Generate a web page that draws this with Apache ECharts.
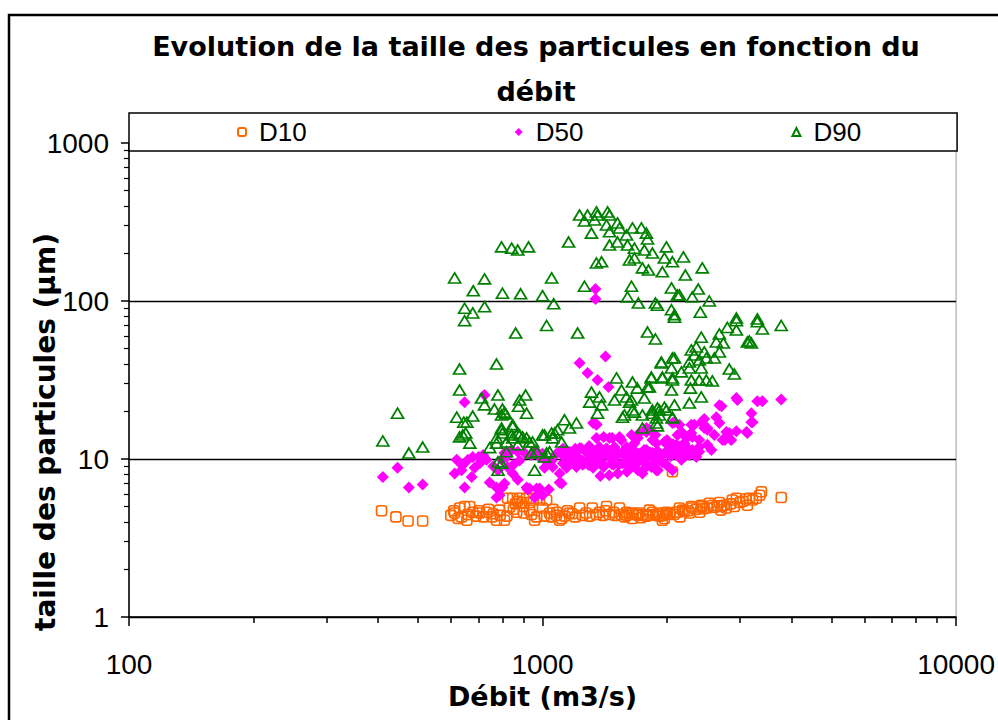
<!DOCTYPE html>
<html>
<head>
<meta charset="utf-8">
<script src="https://cdn.jsdelivr.net/npm/echarts@6.0.0/dist/echarts.min.js"></script>
<style>
  html, body { margin: 0; padding: 0; background: #fff; }
  #main { width: 998px; height: 720px; }
</style>
</head>
<body>
<div id="main"></div>
<script>
var chart = echarts.init(document.getElementById("main"), null, { renderer: 'svg' });

// Débit (m3/s) / taille (µm)
var d10 = [
  [408, 4.7], [442, 4.3], [473, 4.05], [513, 4.05],
  [613, 4.55], [630, 4.9], [648, 5.0], [667, 5.0], [678, 4.6], [637, 4.3], [656, 4.1],
  [705, 4.55], [732, 4.6], [755, 4.3], [774, 4.1], [787, 4.75], [823, 5.65], [847, 5.65],
  [880, 5.65], [915, 5.65], [951, 5.65], [984, 5.5], [1023, 5.5], [832, 4.95], [866, 4.6],
  [900, 4.55], [930, 4.75], [968, 4.3], [1000, 4.9], [1040, 4.55], [1082, 4.6], [1112, 4.2],
  [1162, 4.55], [1229, 4.9], [1274, 4.55], [1319, 4.9], [1373, 4.6], [1428, 5.0], [1484, 4.6],
  [1535, 4.9], [1596, 4.6], [1650, 4.55], [809, 4.1], [957, 4.1], [1100, 4.1], [1714, 4.55],
  [1813, 4.75], [1844, 4.6], [1949, 4.55], [1993, 4.6], [2096, 4.6], [2143, 4.9], [2179, 4.75],
  [2265, 4.55], [2290, 5.0], [2302, 4.9], [2420, 5.1], [2434, 5.0], [2531, 5.25], [2574, 5.1],
  [2677, 5.3], [2710, 5.0], [2782, 4.9], [2877, 5.5], [2910, 5.0], [2943, 5.65], [3129, 5.1],
  [3163, 5.65], [3220, 5.5], [3288, 5.65], [3383, 6.2], [3777, 5.7], [1971, 4.2], [1949, 4.1],
  [1650, 4.2], [2061, 8.3],
  [600, 4.4], [610, 4.7], [625, 4.2], [660, 4.45], [690, 4.35], [700, 4.7], [720, 4.3],
  [740, 4.8], [760, 4.5], [790, 4.4], [820, 4.35], [850, 4.8], [860, 5.2], [890, 5.3],
  [900, 5.0], [940, 4.45], [1010, 4.35], [1050, 4.3], [1080, 4.4], [1130, 4.35], [1180, 4.5],
  [1200, 4.3], [1250, 4.4], [1300, 4.35], [1350, 4.45], [1400, 4.4], [1450, 4.45], [1500, 4.4],
  [1550, 4.45], [1600, 4.4], [1620, 4.5], [1680, 4.45], [1700, 4.4], [1750, 4.45], [1780, 4.35],
  [1800, 4.4], [1850, 4.45], [1880, 4.4], [1900, 4.5], [1920, 4.35], [1960, 4.4], [2000, 4.45],
  [2030, 4.5], [2080, 4.45], [2120, 4.6], [2200, 4.65], [2250, 4.7], [2350, 4.8], [2450, 4.85],
  [2500, 4.9], [2600, 4.95], [2650, 5.05], [2750, 5.1], [2850, 5.2], [3000, 5.3], [3050, 5.4],
  [870, 5.4], [930, 5.3], [1060, 4.8], [1150, 4.7], [1420, 4.7], [1580, 4.3], [1730, 4.25],
  [2150, 4.3], [2400, 4.6], [2700, 4.75], [3100, 5.6], [3350, 5.9]
];

var d50 = [
  [411, 7.7], [446, 8.8], [475, 6.6], [513, 6.9],
  [1343, 119], [1343, 103], [1229, 40.5], [1420, 44.5], [1285, 35], [1358, 31.6], [1444, 28.6],
  [724, 25.4], [648, 22.9], [1350, 16.6], [2084, 17.1], [1813, 15.3],
  [2943, 24.3], [2710, 21.6], [3199, 19.5], [3307, 23.2], [3402, 23.2], [3777, 23.8],
  [2632, 18.4], [2461, 17.9], [2328, 16.5], [2503, 15.7], [2603, 14.2], [2782, 14.8],
  [2860, 13.2], [3112, 14.8], [3199, 17.1], [2203, 14.2], [2560, 11.4], [3129, 14.6],
  [2943, 15], [2829, 14.6], [2725, 13.2], [2393, 13.2], [2290, 14.6], [2143, 16.5],
  [2061, 16.9], [2393, 11.1], [2302, 11.4], [2230, 10.6], [2167, 9.9], [2677, 21.9],
  [2960, 23.6], [2677, 16.9], [2420, 17.1], [2461, 15.7], [2290, 16.5], [2179, 14.6],
  [2302, 13.8], [2503, 15.3], [2760, 13.2], [3220, 17.1], [2503, 12.3], [2393, 11.9],
  [2354, 10.3], [2265, 10.6], [2167, 11.4], [2108, 10.6], [2027, 10.9], [1971, 12.8],
  [1885, 12.6], [1844, 10.9], [1917, 9.9], [1993, 9.2], [1885, 8.5], [2061, 8.5], [1833, 8.9],
  [1350, 16.5], [1405, 13.8], [1475, 13.6], [1535, 13.8], [1641, 14.2], [1714, 14.6],
  [1783, 14.8], [1844, 13.2], [1668, 12.6], [1596, 11.9], [1493, 11.9], [1428, 11.7],
  [1373, 11.9], [1274, 11.4], [1240, 11.7], [1162, 11.1], [1118, 10.6], [1208, 9.9],
  [1300, 10.1], [1373, 10.3], [1484, 10.3], [1596, 10.3], [1686, 10.9], [1783, 11.4],
  [1844, 10.3], [1744, 8.1], [1641, 8.9], [1561, 9.4], [1484, 9.2], [1405, 8.9], [1325, 8.8],
  [1251, 9.2], [1208, 8.9], [1143, 9.2], [1325, 9.9], [1058, 8.9], [1023, 9.6], [984, 10.3],
  [940, 10.6], [905, 10.9], [871, 11.1], [842, 11.4], [809, 10.9], [1100, 7.1], [1035, 6.4],
  [984, 6.5], [930, 6.5], [957, 5.7], [1000, 5.9], [809, 7], [847, 8.1], [871, 7.4],
  [915, 6.6], [1100, 8.1],
  [620, 9.9], [637, 8.5], [613, 8.1], [660, 9.9], [678, 10.3], [685, 8.8], [674, 7.7],
  [648, 6.6], [705, 9.4], [718, 10.6], [732, 9.9], [745, 7.1], [774, 6.6], [800, 6.6],
  [774, 5.7], [787, 5.9], [780, 8.5], [796, 9.9], [823, 8.9], [818, 10.3],
  [1150, 11.1], [1112, 7.0], [920, 6.4], [968, 6.5], [1325, 16.9], [1350, 13.6], [1452, 13.6],
  [1484, 10.6], [1373, 9.4], [1300, 9.2], [1229, 11.7], [1143, 8.8], [1011, 8.8],
  [1783, 15.7], [1875, 14.2], [2000, 13.2], [2120, 14.2], [2230, 13.6], [1550, 13.2],
  [1700, 13.6], [1296, 12.1], [1650, 11.4], [2108, 12.3],
  [1050, 9.7], [1080, 10.8], [1120, 9.4], [1140, 10.4], [1180, 9.9], [1190, 10.6],
  [1220, 10.2], [1250, 9.8], [1270, 11.2], [1290, 9.2], [1310, 10.4], [1340, 11.2],
  [1360, 10.2], [1390, 9.5], [1410, 11.0], [1440, 10.4], [1460, 10.8], [1470, 9.3],
  [1500, 11.4], [1510, 10.5], [1530, 9.2], [1560, 11.0], [1580, 10.4], [1600, 9.2],
  [1620, 10.9], [1640, 10.1], [1660, 11.0], [1690, 9.4], [1710, 10.8], [1730, 9.9],
  [1760, 11.4], [1770, 9.5], [1800, 10.4], [1820, 11.0], [1860, 10.8], [1880, 9.7],
  [1900, 11.2], [1930, 10.5], [1950, 9.5], [1980, 10.9], [2010, 11.4], [2040, 10.4],
  [2070, 12.4], [2100, 11.0], [2150, 12.0], [2200, 12.6], [2240, 11.8], [1200, 11.6],
  [1120, 11.6], [1000, 10.8], [960, 11.4], [880, 9.8], [850, 9.2], [760, 9.0], [700, 10.3],
  [640, 9.1], [1700, 8.5], [1600, 8.3], [1520, 8.1], [1450, 7.9], [1380, 7.8], [1900, 8.5],
  [1780, 8.9]
];

var d90 = [
  [1229, 350], [1285, 350], [1350, 366], [1358, 350], [1436, 366], [1452, 350], [1263, 321],
  [1336, 326], [1313, 269], [1428, 303], [1452, 274], [1518, 312], [1535, 290], [1650, 290],
  [1734, 290], [1452, 226], [1518, 236], [1596, 262], [1605, 226], [1668, 216], [1783, 269],
  [1794, 247], [1763, 210], [1844, 201], [1993, 220], [1971, 187], [2061, 177], [1623, 182],
  [1668, 187], [1350, 174], [1389, 177], [1744, 162], [1804, 157], [1949, 153],
  [796, 220], [842, 216], [871, 210], [925, 220], [1156, 236],
  [613, 140], [724, 138], [680, 116], [800, 112], [885, 111], [1000, 108], [1052, 140],
  [1263, 124], [1064, 96], [648, 90], [678, 84], [724, 92], [648, 75], [861, 62.7],
  [1023, 70], [1216, 62.7], [1641, 124], [1605, 106], [1705, 97], [1875, 97], [1896, 94],
  [2050, 121], [2120, 109], [2050, 88], [2084, 82], [1794, 63.6], [1875, 57.5],
  [2191, 190], [2434, 162], [2215, 146], [2143, 109], [2380, 119], [2302, 106], [2531, 100],
  [2407, 85], [2084, 79], [2943, 78], [3307, 77],
  [3307, 74], [3777, 70], [2943, 75], [2798, 68], [2943, 65.5], [3402, 66.5], [3163, 55.8],
  [3199, 54.2], [3129, 55], [2420, 59], [2677, 61.8], [2632, 55], [2737, 54.2], [2290, 49],
  [2354, 51.2], [2328, 45.5], [2461, 47.6], [2393, 42.3], [2489, 43.6], [2603, 43.6],
  [2677, 47.6], [2265, 41.1], [1938, 41.1], [2084, 43.6], [2050, 37.7], [2167, 35.6],
  [2265, 37.7], [2420, 37.7], [2829, 37.1], [2910, 34.5], [2061, 32.6], [1949, 33],
  [1833, 33], [2290, 31.6], [2393, 31.6], [2489, 31.6], [2574, 31.2], [1650, 30.7],
  [1794, 28.6], [2050, 27.3], [2278, 28.1], [2420, 24.7], [2265, 22.6], [2084, 22],
  [1971, 21.3], [1896, 21], [1844, 19.5], [1744, 19], [1668, 19.8], [1596, 24.7],
  [1623, 22.9], [2061, 18.4], [1917, 19], [1885, 16.9], [1744, 15.7], [1561, 18.4],
  [630, 37.1], [774, 39.9], [630, 27.3], [712, 24.3], [724, 22], [780, 25.4], [765, 20.7],
  [800, 20.7], [814, 19.3], [880, 23.6], [910, 25.4], [875, 21.6], [915, 19.5], [620, 18.4],
  [645, 17.1], [678, 18.7], [641, 14.2], [796, 15.7], [847, 16], [880, 14.2], [1130, 17.7],
  [1208, 16.9], [1162, 15.7], [1070, 14.6], [1011, 14.2], [1313, 26.5], [1373, 24.7],
  [1300, 22.9], [1389, 22], [1358, 19.5], [1510, 32.6], [1552, 27.3], [1695, 28.1],
  [1641, 23.6], [1763, 24.3], [1813, 28.6], [1833, 32.6], [1938, 40.5], [2061, 43.6],
  [1949, 32.6], [2061, 31.6], [1493, 23.6], [1650, 20.4], [1578, 19], [1844, 20.4],
  [1917, 20.4], [1885, 18.2], [1993, 20.4], [2061, 18.2], [1896, 16.2],
  [411, 13], [446, 19.5], [475, 10.9], [513, 11.9],
  [847, 16.5], [800, 14.6], [842, 14.2], [871, 14.6], [895, 13.8], [818, 12.8], [871, 12.3],
  [930, 12.8], [940, 10.9], [968, 11.1], [1000, 14.2], [1052, 14.6], [1087, 15.3],
  [1112, 12.8], [1023, 10.9], [1040, 11.1], [957, 8.5], [818, 11.1], [796, 9.4], [1011, 10.3],
  [774, 12.6], [847, 13.6], [780, 9.6], [780, 8.5], [1058, 13.6], [946, 12.8], [915, 13.6],
  [745, 11.8], [630, 13.8], [652, 14.6], [667, 12.6], [656, 17.1], [774, 13.6], [796, 15.3],
  [796, 19], [809, 19.8]
];

var seriesNames = ["D10", "D50", "D90"];
var xMajor = [100, 1000, 10000];
var xMinor = [200, 300, 400, 500, 600, 700, 800, 900, 2000, 3000, 4000, 5000, 6000, 7000, 8000, 9000];
var yMajor = [1, 10, 100, 1000];
var yMinor = [2, 3, 4, 5, 6, 7, 8, 9, 20, 30, 40, 50, 60, 70, 80, 90, 200, 300, 400, 500, 600, 700, 800, 900];

var boldFont = "DejaVu Sans";
var tickFont = "Liberation Sans";

function plain(v) { return String(v); }

var option = {
  animation: false,
  backgroundColor: '#fff',
  title: {
    text: "Evolution de la taille des particules en fonction du\ndébit",
    left: 536,
    top: 24,
    textAlign: 'center',
    padding: 0,
    textStyle: { fontFamily: boldFont, fontSize: 27, fontWeight: 'bold', color: '#000', lineHeight: 45 }
  },
  legend: {
    data: seriesNames,
    left: 129,
    top: 113,
    padding: [6, 96, 6, 108],
    itemGap: 208,
    itemWidth: 8,
    itemHeight: 8,
    backgroundColor: '#fff',
    borderColor: '#000',
    borderWidth: 1.5,
    borderRadius: 0,
    textStyle: { fontFamily: tickFont, fontSize: 26, color: '#000', padding: [0, 0, 0, 8] }
  },
  grid: {
    left: 129, right: 41, top: 143, bottom: 103,
    show: true, borderColor: '#999', borderWidth: 1, backgroundColor: '#fff'
  },
  graphic: [
    {
      type: 'rect', z: -10, silent: true,
      shape: { x: 9, y: 15, width: 1000, height: 720 },
      style: { fill: 'none', stroke: '#000', lineWidth: 2.5 }
    },
    {
      type: 'text', x: 45, y: 432, rotation: Math.PI / 2,
      style: { text: "taille des particules (µm)", fontFamily: boldFont, fontSize: 28, fontWeight: 'bold',
               fill: '#000', align: 'center', verticalAlign: 'middle' }
    }
  ],
  xAxis: [
    {
      type: 'log', logBase: 10, min: xMajor[0], max: xMajor[xMajor.length - 1],
      name: "Débit (m3/s)", nameLocation: 'middle', nameGap: 57,
      nameTextStyle: { fontFamily: boldFont, fontSize: 27, fontWeight: 'bold', color: '#000' },
      axisLine: { lineStyle: { color: '#000', width: 1.5 } },
      axisTick: { show: true, length: 9, customValues: xMajor, lineStyle: { color: '#000', width: 1.5 } },
      axisLabel: { fontFamily: tickFont, fontSize: 28, color: '#000', margin: 33, customValues: xMajor, formatter: plain },
      splitLine: { show: false }
    },
    {
      type: 'log', logBase: 10, min: xMajor[0], max: xMajor[xMajor.length - 1], position: 'bottom',
      axisLine: { show: false },
      axisTick: { show: true, length: 6, customValues: xMinor, lineStyle: { color: '#000', width: 1.5 } },
      axisLabel: { show: false },
      splitLine: { show: false }
    }
  ],
  yAxis: [
    {
      type: 'log', logBase: 10, min: yMajor[0], max: yMajor[yMajor.length - 1],
      axisLine: { show: true, lineStyle: { color: '#000', width: 1.5 } },
      axisTick: { show: true, length: 8, customValues: yMajor, lineStyle: { color: '#000', width: 1.5 } },
      axisLabel: { fontFamily: tickFont, fontSize: 28, color: '#000', margin: 20, customValues: yMajor, formatter: plain },
      splitLine: { show: true, lineStyle: { color: '#000', width: 1.3 } }
    },
    {
      type: 'log', logBase: 10, min: yMajor[0], max: yMajor[yMajor.length - 1], position: 'left',
      axisLine: { show: false },
      axisTick: { show: true, length: 5, customValues: yMinor, lineStyle: { color: '#000', width: 1.2 } },
      axisLabel: { show: false },
      splitLine: { show: false }
    }
  ],
  series: [
    {
      name: seriesNames[0], type: 'scatter', data: d10,
      symbol: 'roundRect', symbolSize: 10,
      itemStyle: { color: 'rgba(255,255,255,0)', borderColor: '#ff6600', borderWidth: 1.6, opacity: 1 }
    },
    {
      name: seriesNames[1], type: 'scatter', data: d50,
      symbol: 'diamond', symbolSize: [12, 12],
      itemStyle: { color: '#ff00ff', opacity: 1 }
    },
    {
      name: seriesNames[2], type: 'scatter', data: d90,
      symbol: 'triangle', symbolSize: [12, 10],
      itemStyle: { color: 'rgba(255,255,255,0)', borderColor: '#008000', borderWidth: 1.7, opacity: 1 }
    }
  ]
};

chart.setOption(option);
</script>
</body>
</html>
